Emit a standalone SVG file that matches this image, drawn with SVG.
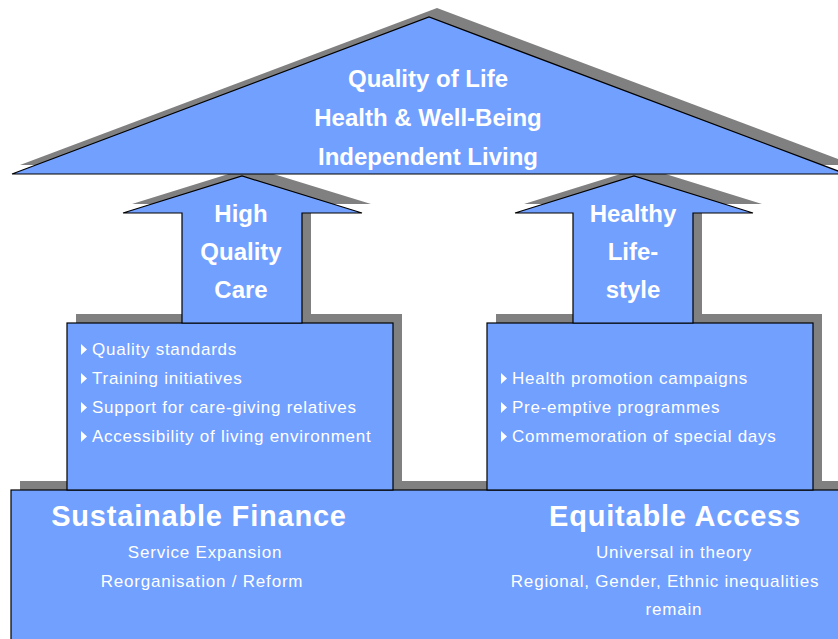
<svg xmlns="http://www.w3.org/2000/svg" width="838" height="639" viewBox="0 0 838 639">
<style>
.sh{fill:#808080;stroke:none}
.sf{fill:#72a0ff;stroke:#000;stroke-width:1.2}
.t{font-family:"Liberation Sans",Arial,sans-serif;fill:#fff;text-anchor:middle}
.b{font-weight:bold;font-size:24px}
.h{font-weight:bold;font-size:29px;letter-spacing:0.8px}
.s{font-size:17px;letter-spacing:0.8px}
.bl{font-family:"Liberation Sans",Arial,sans-serif;fill:#fff;font-size:17px;letter-spacing:0.75px}
.tri{fill:#fff}
</style>
<rect width="838" height="639" fill="#fff"/>
<g id="base">
<rect class="sh" x="20" y="481" width="840" height="170"/>
<rect class="sf" x="11" y="490" width="840" height="160"/>
<text class="t h" x="199" y="526">Sustainable Finance</text>
<text class="t h" x="675" y="526">Equitable Access</text>
<text class="t s" x="205" y="558">Service Expansion</text>
<text class="t s" x="202" y="587">Reorganisation / Reform</text>
<text class="t s" x="674" y="558">Universal in theory</text>
<text class="t s" x="665" y="587">Regional, Gender, Ethnic inequalities</text>
<text class="t s" x="674" y="615">remain</text>
</g>
<g id="box-left">
<rect class="sh" x="76" y="314" width="326" height="167"/>
<rect class="sf" x="67" y="323" width="326" height="167"/>
<polygon class="tri" points="81,344 87,349.5 81,355"/>
<polygon class="tri" points="81,373 87,378.5 81,384"/>
<polygon class="tri" points="81,402 87,407.5 81,413"/>
<polygon class="tri" points="81,431 87,436.5 81,442"/>
<text class="bl" x="92" y="355">Quality standards</text>
<text class="bl" x="92" y="384">Training initiatives</text>
<text class="bl" x="92" y="413">Support for care-giving relatives</text>
<text class="bl" x="92" y="442">Accessibility of living environment</text>
</g>
<g id="box-right">
<rect class="sh" x="496" y="314" width="326" height="167"/>
<rect class="sf" x="487" y="323" width="326" height="167"/>
<polygon class="tri" points="501,373 507,378.5 501,384"/>
<polygon class="tri" points="501,402 507,407.5 501,413"/>
<polygon class="tri" points="501,431 507,436.5 501,442"/>
<text class="bl" x="512" y="384">Health promotion campaigns</text>
<text class="bl" x="512" y="413">Pre-emptive programmes</text>
<text class="bl" x="512" y="442">Commemoration of special days</text>
</g>
<g id="arrow-left">
<polygon class="sh" points="191,314 191,204 132,204 251,167 371,204 311,204 311,314"/>
<polygon class="sf" points="182,323 182,213 123,213 242,176 362,213 302,213 302,323"/>
<text class="t b" x="241" y="222">High</text>
<text class="t b" x="241" y="260">Quality</text>
<text class="t b" x="241" y="298">Care</text>
</g>
<g id="arrow-right">
<polygon class="sh" points="582,314 582,204 524,204 643,167 762,204 702,204 702,314"/>
<polygon class="sf" points="573,323 573,213 515,213 634,176 753,213 693,213 693,323"/>
<text class="t b" x="633" y="222">Healthy</text>
<text class="t b" x="633" y="260">Life-</text>
<text class="t b" x="633" y="298">style</text>
</g>
<g id="roof">
<polygon class="sh" points="20,165 437,8 854,165"/>
<polygon class="sf" points="12,174 429,17 846,174"/>
<text class="t b" x="428" y="87">Quality of Life</text>
<text class="t b" x="428" y="126">Health &amp; Well-Being</text>
<text class="t b" x="428" y="165">Independent Living</text>
</g>
<g id="connectors"/>
</svg>
